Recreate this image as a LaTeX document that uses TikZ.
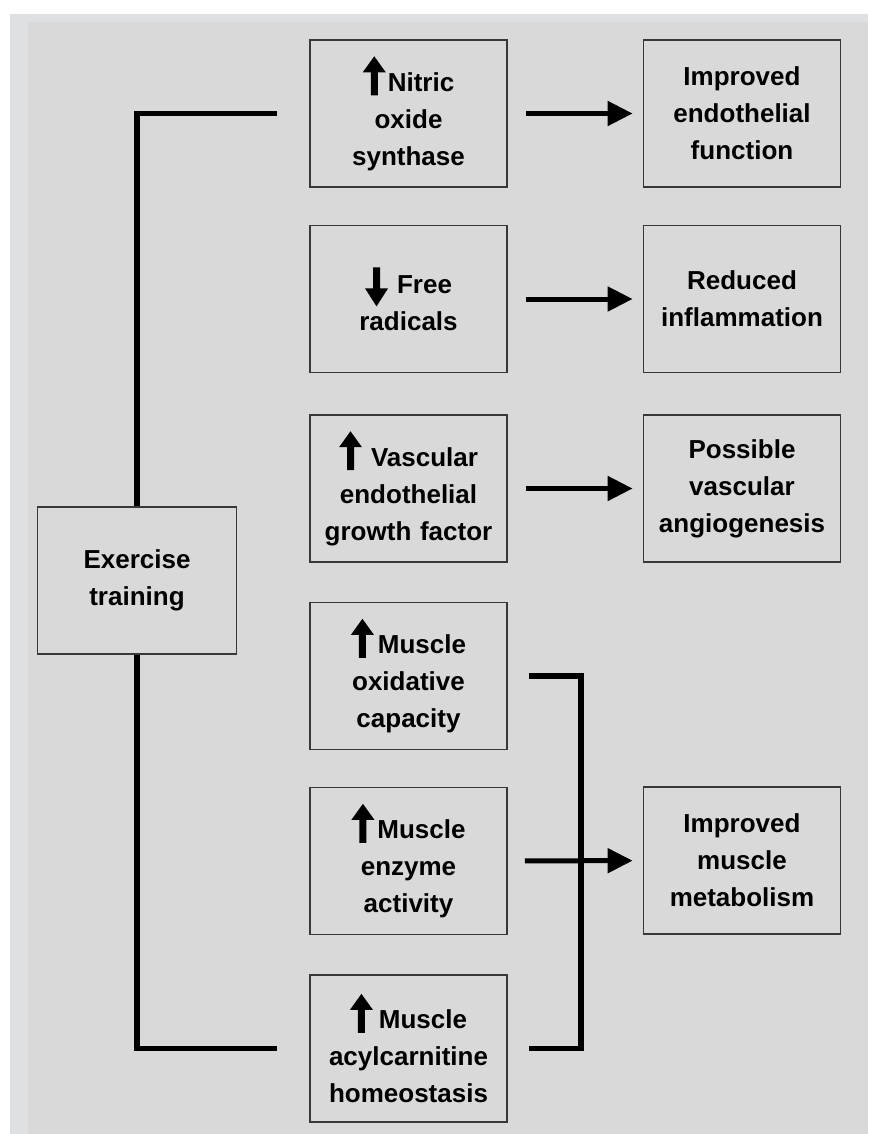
\documentclass[tikz,border=0pt]{standalone}
\usepackage{fontspec}
\setmainfont{Liberation Sans}
\usetikzlibrary{arrows.meta}
\definecolor{panel}{HTML}{D9D9D9}
\definecolor{rim}{HTML}{DFE0E2}
\definecolor{edge}{HTML}{383838}
\newsavebox{\upbox}
\sbox{\upbox}{\tikz[baseline=0pt,x=1pt,y=1pt]\fill (-3.5,-4) -- (-3.5,19) -- (-11.5,19) -- (0,35) -- (11.5,19) -- (3.5,19) -- (3.5,-4) -- cycle;}
\newsavebox{\downbox}
\sbox{\downbox}{\tikz[baseline=0pt,x=1pt,y=1pt]\fill (-3.5,26) -- (-3.5,5) -- (-11.5,5) -- (0,-13) -- (11.5,5) -- (3.5,5) -- (3.5,26) -- cycle;}
\newcommand{\upmark}{\usebox{\upbox}}
\newcommand{\downmark}{\usebox{\downbox}}
\begin{document}
\begin{tikzpicture}[x=1pt,y=-1pt,
  box/.style={draw=edge, line width=1.8pt, minimum width=197pt, minimum height=147pt,
    text width=185pt, align=center, inner sep=1pt, font=\fontsize{26}{37}\selectfont\bfseries},
  bracket/.style={line width=5.5pt, line join=miter},
  flow/.style={line width=5pt, -{Triangle[length=25pt,width=24pt]}, shorten >=10pt}]
\useasboundingbox (0,0) rectangle (868,1134);
\fill[rim] (10,14) rectangle (868,1134);
\fill[panel] (28,22) rectangle (868,1134);
% left: exercise training
\node[box, minimum width=199pt] (ex) at (137,580.5) {Exercise\\training};
% middle column
\node[box] (no) at (408.5,113.5) {\upmark\hspace{2pt}Nitric\\oxide\\synthase};
\node[box] (fr) at (408.5,299) {\downmark\hspace{9pt}Free\\radicals};
\node[box] (vg) at (408.5,488.5) {\upmark\hspace{9pt}Vascular\\endothelial\\growth factor};
\node[box] (mo) at (408.5,676) {\upmark\hspace{4pt}Muscle\\oxidative\\capacity};
\node[box] (ez) at (408.5,861) {\upmark\hspace{3pt}Muscle\\enzyme\\activity};
\node[box] (ma) at (408.5,1048.5) {\upmark\hspace{6pt}Muscle\\acylcarnitine\\homeostasis};
% right column
\node[box] (ie) at (742,113.5) {Improved\\endothelial\\function};
\node[box] (ri) at (742,299) {Reduced\\inflammation};
\node[box] (va) at (742,488.5) {Possible\\vascular\\angiogenesis};
\node[box] (mm) at (742,860.5) {Improved\\muscle\\metabolism};
% bracket ends
\coordinate (no-l) at ([xshift=-32pt]no.west);
\coordinate (ma-l) at ([xshift=-32pt]ma.west);
\coordinate (mo-r) at ([xshift=21pt]mo.east);
\coordinate (ma-r) at ([xshift=21pt]ma.east);
\coordinate (mbar) at ([xshift=73pt]ez.east);
\draw[bracket] (ex) |- (no-l);
\draw[bracket] (ex) |- (ma-l);
\draw[bracket] (mo-r) -| (mbar) |- (ma-r);
\draw[flow, shorten <=18pt] (no) -- (ie);
\draw[flow, shorten <=18pt] (fr) -- (ri);
\draw[flow, shorten <=18pt] (vg) -- (va);
\draw[flow, shorten <=17pt] (ez) -- (mm);
\end{tikzpicture}
\end{document}
